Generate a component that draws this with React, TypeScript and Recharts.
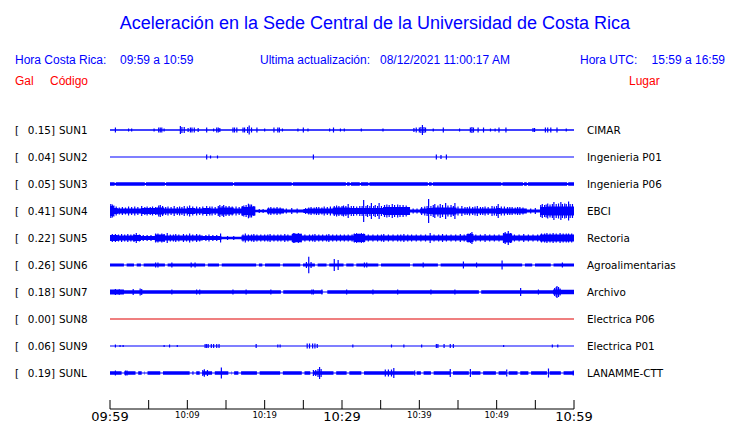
import React from 'react';
import { ComposedChart, Area, Scatter, ErrorBar, XAxis, YAxis } from 'recharts';

// stations, top to bottom
const CODES = ['SUN1', 'SUN2', 'SUN3', 'SUN4', 'SUN5', 'SUN6', 'SUN7', 'SUN8', 'SUN9', 'SUNL'];
const PEAK_GAL = [0.15, 0.04, 0.05, 0.41, 0.22, 0.26, 0.18, 0.0, 0.06, 0.19];
const PLACES = ['CIMAR', 'Ingenieria P01', 'Ingenieria P06', 'EBCI', 'Rectoria', 'Agroalimentarias', 'Archivo', 'Electrica P06', 'Electrica P01', 'LANAMME-CTT'];

// time axis, minutes after 09:59
const TICK_MINUTES = [0, 5, 10, 15, 20, 25, 30, 35, 40, 45, 50, 55, 60];
const LABEL_MINUTES = [0, 10, 20, 30, 40, 50, 60];
const LABEL_TEXT = ['09:59', '10:09', '10:19', '10:29', '10:39', '10:49', '10:59'];
const MAJOR_MINUTES = [0, 30, 60];

// envelope half-heights: [minute, half] steps, or a base level with thin gaps
const SUN4_STEPS = [[0, 5], [0.5, 3], [1, 2.5], [4, 3], [6, 3.5], [7, 2.5], [10, 3], [11, 2.5], [12, 3], [13, 2.5], [14, 3.5], [16, 2.5], [17, 4], [18, 4.5], [18.8, 1.2], [20.3, 2.5], [22.5, 1.5], [25, 2], [25.5, 2.5], [28.8, 3.5], [31, 3], [35.3, 4], [38.8, 1.5], [40.1, 2.5], [41, 3], [41.7, 3.5], [44.8, 2.5], [50, 3], [50.5, 2.5], [53.9, 1.5], [55.6, 4], [56.5, 4.5], [60, 4.5]];
const SUN5_STEPS = [[0, 3], [1, 2.5], [3, 3], [4, 2], [5.8, 3.5], [7.1, 2.5], [12, 2], [14.4, 1.3], [17, 2.5], [23.5, 4], [24.8, 2.5], [31.5, 4], [33, 2.5], [46.1, 4], [47, 2.5], [50.8, 4.5], [52, 2.5], [55.6, 3.5], [60, 3.5]];
const SUN7_STEPS = [[0, 2.6], [1.8, 1.8], [22.1, 0.6], [22.4, 1.8], [27.5, 0.6], [28.1, 1.8], [47.7, 0.6], [48, 1.8], [57.3, 2.5], [58.3, 2.2], [60, 2.2]];

const SUN3_GAPS = [0.6, 4.5, 7.1, 15.9, 23.5, 30.5, 31, 32.3, 33.4, 41.1, 41.6, 50.6, 53.4, 53.9, 59.1];
const SUN6_GAPS = [1.8, 3.1, 4, 7.1, 12.3, 14.1, 18.9, 19.7, 22, 24.6, 26.5, 28, 30.2, 31.5, 34.7, 38.8, 42.4, 53.3, 54.6, 57];
const SUNL_GAPS = [1.5, 3.3, 4.1, 4.5, 6.5, 10.3, 10.8, 11.6, 13.2, 15.3, 15.7, 16.6, 19, 22, 24.8, 25.9, 28.9, 30.6, 32.5, 39.3, 40.2, 41.5, 44, 46.4, 47.9, 49.9, 51.2, 52.7, 54.1, 56.5, 58.3];

// spikes: [minute, half height]
const SUN1_SPIKES = [[0.7, 2.5], [2.4, 1.5], [2.8, 1.5], [5.7, 1.5], [6.3, 2.5], [6.5, 2.5], [6.7, 2.5], [7, 1.5], [9.1, 4], [9.3, 3], [9.6, 3], [10.1, 2], [10.4, 2.5], [10.6, 2.5], [10.9, 2.5], [11.4, 2], [12.5, 2.5], [13.4, 1.5], [13.8, 2.5], [14, 2.5], [14.2, 2], [15.9, 2.5], [16.1, 2.5], [16.4, 2.5], [17.2, 2.5], [17.4, 2.5], [17.8, 3], [18, 4.5], [18.3, 2.5], [19, 2.5], [20, 1.5], [21.2, 2.5], [21.7, 2.5], [21.9, 2.5], [22.3, 1.5], [24.3, 1.5], [25, 2.5], [25.6, 1.5], [28.4, 1.5], [28.9, 2.5], [29.8, 1.5], [30.3, 1.5], [32.5, 1.5], [35.3, 1.5], [39.3, 2], [39.6, 2.5], [40, 2.5], [40.2, 3], [40.4, 5], [40.6, 3], [40.8, 2.5], [41.8, 1.5], [43.1, 2.5], [45.2, 1.5], [46.6, 2.5], [46.8, 3], [47, 2.5], [47.6, 2.5], [48.3, 2.5], [49.2, 1.5], [49.8, 1.5], [50.3, 2.5], [51.2, 2.5], [54.7, 2], [54.9, 2], [56.3, 2.5], [56.6, 2.5], [57, 2.5], [57.8, 2.5], [59, 1.5]];
const SUN2_SPIKES = [[12.5, 2.5], [13, 1.5], [13.9, 1.5], [26.3, 2.5], [42.2, 2.5], [42.8, 2], [43.5, 2.5]];
const SUN3_SPIKES = [];
const SUN4_SPIKES = [[0.1, 7], [0.3, 6.5], [0.5, 5.5], [0.8, 4.5], [1.2, 3.5], [1.6, 4], [2, 3.5], [2.4, 4.5], [2.8, 4], [3.2, 4.5], [3.6, 4], [4.1, 5], [4.5, 4], [4.8, 4.5], [5.2, 4], [5.5, 4.5], [5.9, 4], [6.3, 5.5], [6.5, 6], [6.8, 5], [7.2, 4], [7.5, 4.5], [7.9, 4], [8.3, 5], [8.7, 4], [9, 4.5], [9.3, 4], [9.6, 5], [10, 4.5], [10.3, 5.5], [10.7, 4.5], [11.2, 4.5], [11.6, 4], [12, 4.5], [12.5, 5], [12.9, 4.5], [13.2, 4.5], [13.6, 4], [14, 5], [14.2, 6], [14.5, 5], [14.7, 6], [15, 5], [15.4, 5], [15.8, 4.5], [16.3, 4.5], [16.7, 4], [17.1, 5], [17.3, 5.5], [17.6, 6], [17.9, 7.3], [18.1, 6.5], [18.3, 6.5], [18.6, 5], [19.3, 2], [19.8, 2], [20.5, 3.5], [20.8, 4], [21.2, 3.5], [21.6, 4], [22, 3.5], [22.8, 2.5], [23.5, 3], [24.2, 2.5], [25.3, 3], [25.7, 3.5], [26, 4], [26.4, 3.5], [26.7, 4], [27, 4], [27.4, 3.5], [27.7, 4.5], [28.1, 4], [28.5, 4.5], [29, 5], [29.3, 5.5], [29.6, 5], [30, 5], [30.2, 5.5], [30.5, 5], [30.8, 7], [31.2, 5], [31.5, 5], [31.9, 4.5], [32.3, 5], [32.6, 5], [32.8, 11], [33.1, 5], [33.3, 6], [33.6, 5], [33.8, 8], [34.1, 5], [34.3, 6], [34.6, 5], [34.8, 8], [35.1, 5], [35.5, 6], [35.8, 6.5], [36.1, 6], [36.5, 7], [36.8, 6], [37.2, 6.5], [37.5, 6], [37.9, 6], [38.3, 5.5], [38.6, 4], [39.2, 2.5], [39.7, 2.5], [40.3, 4], [40.7, 4.5], [41, 5], [41.2, 12], [41.5, 5], [41.8, 6], [42, 7], [42.4, 5.5], [42.7, 7], [43, 6], [43.4, 8], [43.7, 5.5], [44.1, 6], [44.4, 5], [44.6, 8], [45, 4.5], [45.5, 5], [45.9, 4], [46.2, 4], [46.5, 4.5], [46.9, 4], [47.2, 4.5], [47.5, 5], [47.9, 4], [48.2, 4], [48.5, 4.5], [48.9, 4], [49.4, 5], [49.7, 4.5], [50, 5], [50.2, 7], [50.6, 4.5], [51, 4.5], [51.4, 4], [51.7, 4], [52, 4], [52.4, 3.5], [52.7, 4], [53, 4], [53.4, 3.5], [54.4, 2.5], [55, 3], [55.7, 6], [55.9, 7], [56.2, 6], [56.4, 6.5], [56.6, 7.5], [56.9, 6.5], [57.2, 7], [57.4, 9], [57.7, 7], [58, 7.5], [58.3, 9], [58.5, 7], [58.8, 7.5], [59, 7], [59.3, 9.5], [59.5, 7], [59.8, 7]];
const SUN5_SPIKES = [[0.3, 4], [0.7, 4], [1.1, 3.5], [1.5, 4], [1.9, 3.5], [2.3, 4], [2.7, 3.5], [3.1, 4], [3.4, 5], [3.8, 3.5], [4.3, 3], [4.8, 3], [5.3, 3], [5.9, 4.5], [6.2, 4.5], [6.7, 4.5], [7, 4], [7.4, 5], [7.8, 3.5], [8.2, 3.5], [8.5, 4], [8.9, 3.5], [9.5, 4], [9.9, 3.5], [10.3, 4.5], [10.7, 3.5], [11.2, 4], [11.6, 3.5], [12.4, 3], [12.8, 3.5], [13.3, 3], [13.8, 3], [14.3, 4.5], [15.2, 2], [16, 2], [17.2, 3.5], [17.5, 4.5], [17.9, 3.5], [18.3, 3.5], [18.6, 4], [19, 3.5], [19.5, 3.5], [20, 3.5], [20.4, 3.5], [20.7, 4], [21.2, 3.5], [21.7, 3.5], [22.1, 3.5], [22.6, 4], [23, 3.5], [23.7, 5], [23.9, 5], [24.2, 4.5], [24.4, 5], [24.7, 4.5], [25.2, 3.5], [25.8, 3.5], [26.2, 3.5], [26.5, 4], [27, 3.5], [27.5, 3.5], [28, 3.5], [28.3, 4], [28.8, 3.5], [29.3, 3.5], [29.8, 3.5], [30.3, 3.5], [30.8, 3.5], [31.3, 3.5], [31.6, 4.5], [31.9, 5], [32.2, 4.5], [32.5, 5], [32.8, 4.5], [33.4, 3.5], [34, 3.5], [34.6, 3.5], [35.1, 3.5], [35.4, 4], [36, 3.5], [36.6, 3.5], [37.2, 3.5], [37.6, 3.5], [38, 4], [38.5, 3.5], [39, 3.5], [39.6, 3.5], [40.2, 3.5], [40.8, 3.5], [41.4, 5], [41.9, 3.5], [42.5, 3.5], [43, 4], [43.5, 3.5], [44.1, 3.5], [44.7, 3.5], [45.3, 4], [45.8, 3.5], [46.3, 4.5], [46.6, 5], [46.8, 6], [47.3, 3.5], [47.9, 3.5], [48.5, 4], [49.1, 3.5], [49.7, 3.5], [50.3, 3.5], [50.9, 5], [51.1, 6], [51.5, 7], [51.8, 5], [52.3, 3.5], [52.9, 3.5], [53.5, 4], [54.1, 3.5], [54.7, 3.5], [55.3, 3.5], [55.8, 4.5], [56.2, 4.5], [56.5, 5], [56.9, 4.5], [57.3, 5], [57.7, 4.5], [58.2, 5], [58.6, 4.5], [59, 4.5], [59.3, 4.5], [59.7, 4.5]];
const SUN6_SPIKES = [[5.9, 2.5], [6.2, 2.5], [8, 2.5], [10.5, 2.5], [11, 2.5], [25.4, 3], [25.7, 8.3], [26, 3], [29, 6], [29.5, 5], [32.9, 2.5], [33.2, 2.5], [40.5, 2.5], [45.7, 3.5], [47.4, 2.5], [50.7, 4.5], [58.5, 2.5]];
const SUN7_SPIKES = [[0.7, 3], [1.2, 2.8], [3, 3], [3.9, 3.5], [4.1, 3], [8, 2.5], [11.2, 2.5], [11.6, 2.5], [15.9, 2.5], [17.6, 2.5], [20.8, 2.5], [26.1, 2.5], [26.3, 2.5], [27.4, 2.5], [30.6, 2.5], [34, 2.5], [37.2, 2.5], [41.5, 2.5], [44.6, 2.5], [53.1, 4], [55.4, 2.5], [57.5, 4], [57.7, 5], [57.8, 6], [58, 5], [58.2, 3.5]];
const SUN8_SPIKES = [];
const SUN9_SPIKES = [[0.7, 1.5], [1.3, 1], [1.7, 1], [7, 1], [7.7, 1.5], [8.7, 1], [12.3, 2], [12.5, 2], [12.7, 2], [13.1, 2], [13.4, 2], [13.8, 2], [14.1, 2], [18.9, 2], [21.7, 1.5], [22, 1.5], [25.5, 2.5], [25.8, 2.5], [26.2, 2.5], [26.5, 2.5], [26.8, 2], [31.4, 1.5], [36.4, 1.5], [38, 1.5], [40.3, 1.5], [42.2, 2], [42.4, 2], [43.2, 2], [44, 2], [44.4, 2], [50.9, 1], [57.2, 1.5], [57.9, 1.5]];
const SUNL_SPIKES = [[0.7, 2.5], [2, 2.5], [2.2, 2.5], [12, 3], [12.2, 3.7], [12.6, 3], [14.4, 5.5], [26.3, 3], [26.6, 3], [26.9, 4], [27.1, 6], [27.3, 4], [35.6, 3.5], [36, 3.5], [36.4, 3.5], [36.7, 5], [39.4, 2.5], [44, 4], [46.6, 4], [51.3, 3.5], [56.7, 4.5], [59.9, 2.5]];

const BLUE = '#0000ff';
const RED = '#e00000';

const TRACES = [
  { base: 0.7, gaps: [], spikes: SUN1_SPIKES, color: BLUE },
  { base: 0.6, gaps: [], spikes: SUN2_SPIKES, color: BLUE },
  { base: 1.8, gaps: SUN3_GAPS, gapThin: 1.1, gapWidth: 0.15, spikes: SUN3_SPIKES, color: BLUE },
  { steps: SUN4_STEPS, spikes: SUN4_SPIKES, color: BLUE },
  { steps: SUN5_STEPS, spikes: SUN5_SPIKES, color: BLUE },
  { base: 1.6, gaps: SUN6_GAPS, spikes: SUN6_SPIKES, color: BLUE },
  { steps: SUN7_STEPS, spikes: SUN7_SPIKES, color: BLUE },
  { base: 0.6, gaps: [], spikes: SUN8_SPIKES, color: RED },
  { base: 0.6, gaps: [], spikes: SUN9_SPIKES, color: BLUE },
  { base: 1.8, gaps: SUNL_GAPS, spikes: SUNL_SPIKES, color: BLUE },
];

const W = 740;
const H = 423;
const TOP = 103;
const X_AXIS_H = 14;
const PLOT_H = H - TOP - X_AXIS_H;
const LANE = 27;
const THIN = 0.6;
const GAP = 0.35;

const center = (i: number) => PLOT_H - LANE - LANE * i;
const CENTERS = CODES.map((_, i) => center(i));

const envRows = (tr: any, i: number) => {
  const c = center(i);
  const thin = tr.gapThin ?? THIN;
  const gw = tr.gapWidth ?? GAP;
  const pts = tr.steps
    ? tr.steps
    : [[0, tr.base], ...tr.gaps.flatMap((g: number) => [[g, thin], [g + gw, tr.base]]), [60, tr.base]];
  return pts.map(([t, h]: number[]) => ({ t, band: [c - h, c + h] }));
};

const spikeRows = (tr: any, i: number) => tr.spikes.map(([t, h]: number[]) => ({ t, y: center(i), e: h }));

const LABEL_FONT = '"DejaVu Sans", sans-serif';
const HEAD_FONT = '"Liberation Sans", Arial, sans-serif';

const LeftTick = ({ x, y, payload }: any) => {
  const i = CENTERS.indexOf(payload.value);
  if (i < 0) return null;
  return (
    <g fontFamily={LABEL_FONT} fontSize={10.4} fill="#000">
      <text x={x - 95} y={y} dy="0.35em">[</text>
      <text x={x - 55} y={y} dy="0.35em" textAnchor="end">{PEAK_GAL[i].toFixed(2) + ']'}</text>
      <text x={x - 51} y={y} dy="0.35em">{CODES[i]}</text>
    </g>
  );
};

const RightTick = ({ x, y, payload }: any) => {
  const i = CENTERS.indexOf(payload.value);
  if (i < 0) return null;
  return (
    <text x={x + 13} y={y} dy="0.35em" fontFamily={LABEL_FONT} fontSize={10.4} fill="#000">
      {PLACES[i]}
    </text>
  );
};

const TimeTick = ({ x, y, payload }: any) => {
  const k = LABEL_MINUTES.indexOf(payload.value);
  const major = MAJOR_MINUTES.includes(payload.value);
  return (
    <g>
      <line x1={x} x2={x} y1={y - 9} y2={y} stroke="#000" strokeWidth={1} />
      {k >= 0 && (
        <text x={x} y={y + (major ? 12 : 9)} textAnchor="middle" fontFamily={LABEL_FONT} fontSize={major ? 13 : 8.5} fill="#000">
          {LABEL_TEXT[k]}
        </text>
      )}
    </g>
  );
};

const Header = () => (
  <svg width={W} height={TOP} style={{ position: 'absolute', left: 0, top: 0 }}>
    <g fontFamily={HEAD_FONT}>
      <text x={375} y={29} textAnchor="middle" fontSize={18} fill={BLUE}>
        Aceleración en la Sede Central de la Universidad de Costa Rica
      </text>
      <g fontSize={12} fill={BLUE}>
        <text x={15} y={64}>Hora Costa Rica:</text>
        <text x={120} y={64}>09:59 a 10:59</text>
        <text x={260} y={64}>Ultima actualización:</text>
        <text x={380} y={64}>08/12/2021 11:00:17 AM</text>
        <text x={580} y={64}>Hora UTC:</text>
        <text x={725} y={64} textAnchor="end">15:59 a 16:59</text>
      </g>
      <g fontSize={12} fill="#ff0000">
        <text x={15} y={85}>Gal</text>
        <text x={50} y={85}>Código</text>
        <text x={629} y={85}>Lugar</text>
      </g>
    </g>
  </svg>
);

export default function App() {
  return (
    <div style={{ position: 'absolute', left: 0, top: 0, width: W, height: H, background: '#fff' }}>
      <ComposedChart width={W} height={H} margin={{ top: TOP, right: 0, bottom: 0, left: 0 }}>
        <XAxis
          dataKey="t"
          type="number"
          domain={[0, 60]}
          ticks={TICK_MINUTES}
          interval={0}
          height={X_AXIS_H}
          tickSize={0}
          tickMargin={0}
          tickLine={false}
          axisLine={{ stroke: '#000' }}
          tick={<TimeTick />}
          allowDataOverflow
        />
        <YAxis
          yAxisId="L"
          dataKey="y"
          type="number"
          domain={[0, PLOT_H]}
          ticks={CENTERS}
          interval={0}
          width={110}
          axisLine={false}
          tickLine={false}
          tickSize={0}
          tickMargin={0}
          tick={<LeftTick />}
          allowDataOverflow
        />
        <YAxis
          yAxisId="R"
          orientation="right"
          type="number"
          domain={[0, PLOT_H]}
          ticks={CENTERS}
          interval={0}
          width={166}
          axisLine={false}
          tickLine={false}
          tickSize={0}
          tickMargin={0}
          tick={<RightTick />}
          allowDataOverflow
        />
        {TRACES.map((tr, i) => (
          <Area
            key={'a' + i}
            yAxisId="L"
            data={envRows(tr, i)}
            dataKey="band"
            type="stepAfter"
            stroke="none"
            fill={tr.color}
            fillOpacity={1}
            dot={false}
            activeDot={false}
            isAnimationActive={false}
          />
        ))}
        {TRACES.map((tr, i) => (
          <Scatter key={'s' + i} yAxisId="L" data={spikeRows(tr, i)} fill="none" isAnimationActive={false}>
            <ErrorBar dataKey="e" direction="y" width={0} stroke={tr.color} strokeWidth={1.2} isAnimationActive={false} />
          </Scatter>
        ))}
      </ComposedChart>
      <Header />
    </div>
  );
}
